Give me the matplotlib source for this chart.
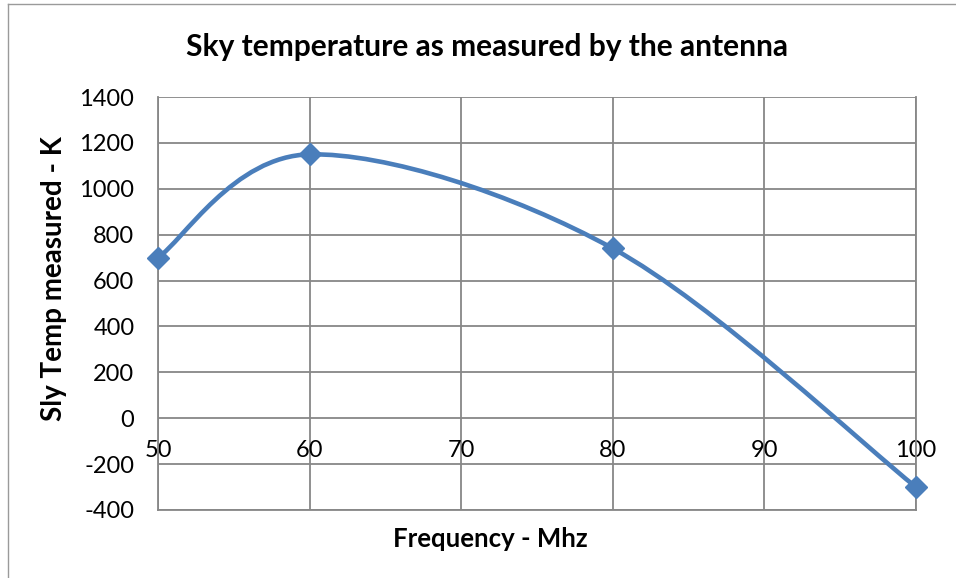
import numpy as np
import matplotlib.pyplot as plt
from matplotlib.path import Path
from matplotlib.patches import PathPatch

freq = [50, 60, 80, 100]
sky_temp = [700, 1150, 740, -300]
x_ticks = [50, 60, 70, 80, 90, 100]
y_ticks = list(range(-400, 1401, 200))

plt.rcParams['font.family'] = ['Lato', 'DejaVu Sans']
plt.rcParams['axes.unicode_minus'] = False

line_color = '#4A7EBB'
grid_color = '#878787'

fig = plt.figure(figsize=(9.56, 5.78), dpi=100)
ax = fig.add_axes([158 / 956, 1 - 510 / 578, (916 - 158) / 956, (510 - 97) / 578])

# Excel-style smoothed line: cubic Bezier segments through the points
pts = np.column_stack([freq, sky_temp]).astype(float)
ext = np.vstack([pts[0], pts, pts[-1]])
verts = [tuple(pts[0])]
codes = [Path.MOVETO]
for i in range(len(pts) - 1):
    p0, p1, p2, p3 = ext[i], ext[i + 1], ext[i + 2], ext[i + 3]
    c1 = p1 + (p2 - p0) / 6
    c2 = p2 - (p3 - p1) / 6
    verts += [tuple(c1), tuple(c2), tuple(p2)]
    codes += [Path.CURVE4] * 3
ax.add_patch(PathPatch(Path(verts, codes), fill=False, edgecolor=line_color,
                       lw=3.3, capstyle='round', joinstyle='round', zorder=3))
ax.plot(freq, sky_temp, linestyle='none', marker='D', markersize=11.5,
        color=line_color, zorder=4, clip_on=False)

ax.set_xlim(50, 100)
ax.set_ylim(-400, 1400)
ax.set_xticks(x_ticks)
ax.set_yticks(y_ticks)
ax.grid(True, color=grid_color, lw=1.3)
ax.set_axisbelow(True)

for s in ['left', 'right', 'bottom']:
    ax.spines[s].set_color(grid_color)
    ax.spines[s].set_linewidth(1.3)
ax.spines['top'].set_visible(False)

# x tick labels sit just below the zero line
ax.spines['bottom'].set_position(('data', 0))
ax.spines['bottom'].set_visible(False)
ax.plot([50, 100], [-400, -400], color=grid_color, lw=1.3, clip_on=False, zorder=2)
ax.tick_params(axis='x', length=0, pad=16, labelsize=17)
ax.tick_params(axis='y', length=0, pad=17, labelsize=17)

ax.set_xlabel('Frequency - Mhz', fontsize=18.5, fontweight='bold', labelpad=0)
ax.xaxis.set_label_coords(0.438, -0.04)
ax.set_ylabel('Sly Temp measured - K', fontsize=20, fontweight='bold')
ax.yaxis.set_label_coords(-0.12, 0.56)

fig.text(0.509, 1 - 47 / 578, 'Sky temperature as measured by the antenna',
         ha='center', va='center', fontsize=21.5, fontweight='bold')

# outer chart frame
fig.add_artist(plt.Line2D([8 / 956, 8 / 956], [0, 1 - 4 / 578], color='#9a9a9a', lw=1))
fig.add_artist(plt.Line2D([8 / 956, 1], [1 - 4 / 578, 1 - 4 / 578], color='#9a9a9a', lw=1))

fig.savefig('out.png', dpi=100)
